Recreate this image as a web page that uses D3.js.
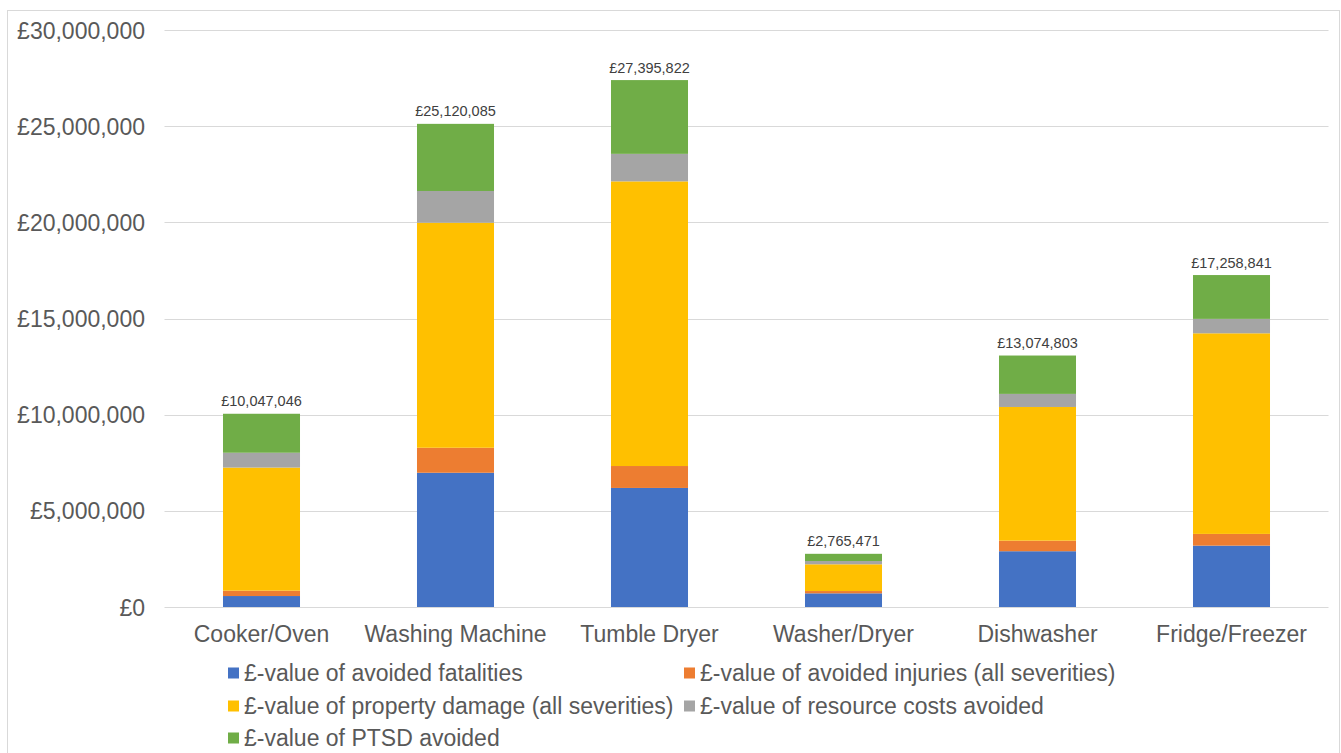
<!DOCTYPE html>
<html>
<head>
<meta charset="utf-8">
<script src="https://cdnjs.cloudflare.com/ajax/libs/d3/7.8.5/d3.min.js"></script>
<style>
  html, body { margin: 0; padding: 0; background: #fff; }
  svg { display: block; font-family: "Liberation Sans", Arial, sans-serif; }
</style>
</head>
<body>
<svg id="chart" width="1341" height="753"></svg>
<script>
// Appliance categories along the x axis
const categories = ["Cooker/Oven", "Washing Machine", "Tumble Dryer", "Washer/Dryer", "Dishwasher", "Fridge/Freezer"];

// Series (stacked bottom to top), values in £
const seriesNames = [
  "£-value of avoided fatalities",
  "£-value of avoided injuries (all severities)",
  "£-value of property damage (all severities)",
  "£-value of resource costs avoided",
  "£-value of PTSD avoided"
];
const fatalities = [570000, 6980000, 6190000, 710000, 2900000, 3190000];
const injuries   = [280000, 1300000, 1140000, 120000, 550000, 610000];
const property   = [6400000, 11700000, 14800000, 1390000, 6950000, 10430000];
const resource   = [770000, 1650000, 1430000, 170000, 680000, 750000];
const ptsd       = [2027046, 3490085, 3835822, 375471, 1994803, 2278841];

// Totals printed above each bar
const totals = [10047046, 25120085, 27395822, 2765471, 13074803, 17258841];

// Y axis ticks
const yTicks = [0, 5000000, 10000000, 15000000, 20000000, 25000000, 30000000];

const colors = ["#4472C4", "#ED7D31", "#FFC000", "#A5A5A5", "#70AD47"];
const textColor = "#595959";

const seriesValues = [fatalities, injuries, property, resource, ptsd];
const keys = ["fatalities", "injuries", "property", "resource", "ptsd"];
const rows = categories.map((c, i) => {
  const r = { category: c };
  keys.forEach((k, j) => { r[k] = seriesValues[j][i]; });
  return r;
});

const svg = d3.select("#chart");
const W = 1341, H = 753;

svg.append("rect").attr("width", W).attr("height", H).attr("fill", "#fff");
// outer chart frame
svg.append("rect")
  .attr("x", 7.5).attr("y", 10.5)
  .attr("width", 1332).attr("height", 780)
  .attr("fill", "none").attr("stroke", "#d9d9d9").attr("stroke-width", 1);

const plot = { left: 164.5, right: 1328.5, top: 30, bottom: 607 };

const x = d3.scaleBand()
  .domain(categories)
  .range([plot.left, plot.right])
  .paddingInner(0.603)
  .paddingOuter(0.3015);

const y = d3.scaleLinear()
  .domain([0, 30000000])
  .range([plot.bottom, plot.top]);

const fmt = v => "£" + d3.format(",")(v);

// gridlines
svg.append("g")
  .selectAll("line")
  .data(yTicks)
  .join("line")
  .attr("x1", plot.left).attr("x2", plot.right)
  .attr("y1", d => Math.round(y(d)) + 0.5).attr("y2", d => Math.round(y(d)) + 0.5)
  .attr("stroke", "#d9d9d9").attr("stroke-width", 1);

// y axis labels
const yAxis = d3.axisLeft(y).tickValues(yTicks).tickFormat(fmt).tickSize(0).tickPadding(0);
const yg = svg.append("g").attr("transform", "translate(145,0)").call(yAxis);
yg.select(".domain").remove();
yg.selectAll("text")
  .attr("fill", textColor)
  .style("font-size", "23px")
  .attr("dy", "0.35em");

// stacked bars
const stack = d3.stack().keys(keys);
const stacked = stack(rows);

svg.append("g")
  .selectAll("g")
  .data(stacked)
  .join("g")
  .attr("fill", (d, i) => colors[i])
  .selectAll("rect")
  .data(d => d)
  .join("rect")
  .attr("x", d => x(d.data.category))
  .attr("width", x.bandwidth())
  .attr("y", d => y(d[1]))
  .attr("height", d => y(d[0]) - y(d[1]));

// total labels
svg.append("g")
  .selectAll("text")
  .data(categories)
  .join("text")
  .attr("x", d => x(d) + x.bandwidth() / 2)
  .attr("y", (d, i) => y(totals[i]) - 7.5)
  .attr("text-anchor", "middle")
  .attr("fill", "#404040")
  .style("font-size", "14.5px")
  .text((d, i) => fmt(totals[i]));

// x axis category labels
const xAxis = d3.axisBottom(x).tickSize(0).tickPadding(0);
const xg = svg.append("g").attr("transform", `translate(0,${plot.bottom})`).call(xAxis);
xg.select(".domain").remove();
xg.selectAll("text")
  .attr("y", 35)
  .attr("dy", 0)
  .attr("fill", textColor)
  .style("font-size", "23px");

// legend
const legendCols = [228, 684];
const legendRows = [673, 706, 738];
const legend = svg.append("g")
  .selectAll("g")
  .data(seriesNames)
  .join("g")
  .attr("transform", (d, i) => `translate(${legendCols[i % 2]},${legendRows[Math.floor(i / 2)]})`);
legend.append("rect")
  .attr("x", 0).attr("y", -5.5)
  .attr("width", 11).attr("height", 11)
  .attr("fill", (d, i) => colors[i]);
legend.append("text")
  .attr("x", 16).attr("y", 0).attr("dy", "0.35em")
  .attr("fill", textColor)
  .style("font-size", "23px")
  .text(d => d);
</script>
</body>
</html>
